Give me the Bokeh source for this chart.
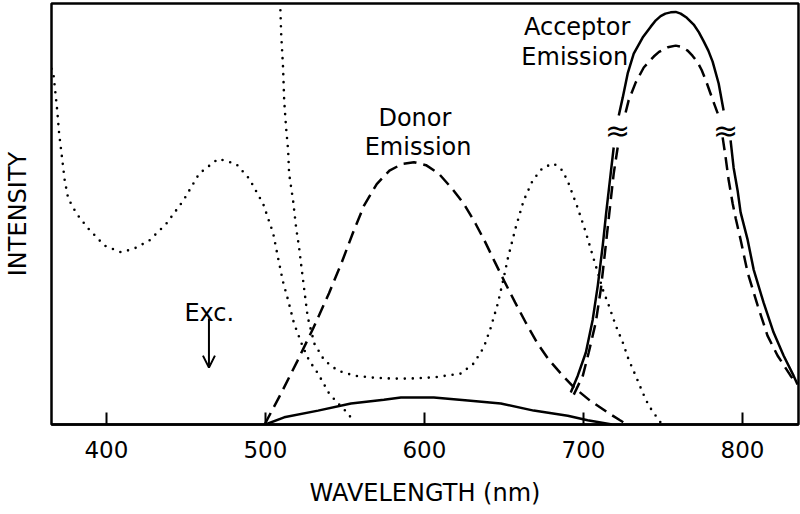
from bokeh.plotting import figure
from bokeh.models import Range1d, FixedTicker, Arrow, OpenHead, Label
from bokeh.embed import file_html
from bokeh.resources import INLINE

nan = float("nan")

# ---- data (wavelength nm, relative intensity) ----
donor_abs_wl = [365.5, 366.6, 367.6, 369.1, 370.3, 371.8, 373.8, 376.0, 381.2, 388.5, 398.8, 409.4,
                417.6, 427.0, 437.7, 448.4, 458.4, 470.3, 481.6, 489.8, 498.6, 504.9, 508.0, 511.0,
                514.3, 518.0, 523.7, 527.5, 533.1, 540.0, 545.7, 552.0, 555.7]
donor_abs_y = [0.845, 0.837, 0.801, 0.746, 0.691, 0.644, 0.580, 0.537, 0.501, 0.466, 0.425, 0.409,
               0.418, 0.437, 0.477, 0.532, 0.596, 0.631, 0.619, 0.584, 0.524, 0.454, 0.395, 0.340,
               0.295, 0.240, 0.183, 0.152, 0.121, 0.074, 0.050, 0.026, 0.005]

acceptor_abs_wl = [508.8, 509.3, 509.9, 511.1, 511.8, 513.0, 514.3, 514.9, 517.4, 519.3, 521.2, 522.4,
                   524.5, 526.6, 530.8, 537.1, 545.5, 555.9, 568.5, 581.0, 590.0, 605.9, 622.9, 631.0,
                   637.3, 641.7, 646.1, 649.9, 652.4, 657.4, 662.4, 668.1, 674.4, 681.3, 686.9, 690.7,
                   696.3, 701.5, 705.8, 709.5, 712.1, 715.9, 720.3, 724.7, 728.4, 732.8, 737.2, 741.0,
                   745.4, 748.5]
acceptor_abs_y = [1.06, 1.0, 0.929, 0.848, 0.770, 0.705, 0.651, 0.596, 0.532, 0.468, 0.420, 0.382,
                  0.318, 0.255, 0.192, 0.152, 0.128, 0.116, 0.111, 0.109, 0.109, 0.112, 0.121, 0.145,
                  0.183, 0.230, 0.287, 0.349, 0.394, 0.468, 0.532, 0.580, 0.610, 0.620, 0.603, 0.572,
                  0.515, 0.456, 0.401, 0.355, 0.321, 0.283, 0.235, 0.195, 0.154, 0.116, 0.076, 0.045,
                  0.021, 0.005]

donor_em_wl = [499.5, 510.0, 520.0, 530.0, 540.0, 548.0, 555.0, 562.0, 570.0, 578.0, 586.0, 593.4,
               601.0, 609.0, 617.0, 625.0, 632.0, 638.0, 644.0, 650.0, 657.0, 664.0, 671.0, 678.0,
               686.0, 694.0, 704.0, 715.0, 723.0, 726.5]
donor_em_y = [0.0, 0.075, 0.150, 0.228, 0.312, 0.385, 0.455, 0.520, 0.571, 0.603, 0.619, 0.623,
              0.616, 0.596, 0.562, 0.523, 0.478, 0.435, 0.388, 0.342, 0.290, 0.240, 0.193, 0.155,
              0.120, 0.088, 0.057, 0.029, 0.010, 0.002]

direct_em_wl = [500.0, 511.8, 533.1, 553.8, 574.5, 585.2, 605.9, 627.3, 648.0, 668.7, 690.1, 702.6, 718.0]
direct_em_y = [0.0, 0.017, 0.033, 0.050, 0.059, 0.064, 0.064, 0.057, 0.050, 0.033, 0.021, 0.010, 0.0]

acc_em_solid_wl = [692.0, 696.4, 701.5, 705.8, 709.0, 712.1, 714.3, 717.1, 719.0, nan,
                   722.2, 724.7, 727.8, 731.6, 737.2, 742.3, 745.5, 748.5, 751.5, 754.8, 758.0,
                   761.1, 765.0, 769.3, 772.5, 775.6, 778.5, 781.2, 785.0, 788.1, nan,
                   792.5, 794.4, 796.9, 798.8, 803.2, 807.0, 813.2, 819.5, 825.8, 832.1, 834.6]
acc_em_solid_y = [0.076, 0.116, 0.171, 0.249, 0.330, 0.425, 0.504, 0.596, 0.658, nan,
                  0.734, 0.777, 0.834, 0.881, 0.919, 0.945, 0.960, 0.970, 0.976, 0.979, 0.980,
                  0.976, 0.966, 0.950, 0.932, 0.910, 0.888, 0.862, 0.810, 0.746, nan,
                  0.675, 0.610, 0.556, 0.504, 0.439, 0.368, 0.290, 0.219, 0.164, 0.116, 0.095]

acc_em_dash_wl = [693.9, 699.6, 703.3, 707.7, 710.9, 714.0, 716.3, 719.0, 721.5, nan,
                  726.5, 728.4, 732.8, 737.9, 744.2, 747.5, 753.0, 758.0, 761.5, 765.5, 768.5,
                  771.8, 774.3, 776.8, 781.2, 784.4, nan,
                  787.5, 789.4, 791.3, 793.8, 795.7, 798.8, 803.2, 809.5, 815.7, 822.0, 830.2, 833.3]
acc_em_dash_y = [0.071, 0.116, 0.171, 0.242, 0.321, 0.425, 0.504, 0.596, 0.658, nan,
                 0.741, 0.770, 0.812, 0.848, 0.874, 0.885, 0.896, 0.900, 0.897, 0.888, 0.876,
                 0.860, 0.842, 0.819, 0.772, 0.739, nan,
                 0.682, 0.634, 0.580, 0.525, 0.490, 0.439, 0.361, 0.283, 0.211, 0.164, 0.116, 0.100]

x_ticks = [400, 500, 600, 700, 800]
exc_wl = 464.5
exc_arrow_y = [0.252, 0.135]
break_wl = [721.5, 789.4]
break_y = 0.698

FONT = "DejaVu Sans"

p = figure(width=800, height=514, x_range=Range1d(365.5, 835.2), y_range=Range1d(0, 1.0),
           output_backend="svg", toolbar_location=None,
           min_border_left=50, min_border_right=2, min_border_top=3, min_border_bottom=90)
p.background_fill_color = "white"
p.border_fill_color = "white"
p.outline_line_color = "black"
p.outline_line_width = 2.5
p.outline_line_alpha = 1.0
p.xgrid.visible = False
p.ygrid.visible = False

ay = p.yaxis[0]
ay.ticker = FixedTicker(ticks=[])
ay.axis_line_color = None
ay.major_tick_in = 0
ay.major_tick_out = 0
ay.minor_tick_line_color = None
ay.major_label_text_font_size = "0px"
ay.axis_label = "INTENSITY"
ay.axis_label_text_font = FONT
ay.axis_label_text_font_size = "24px"
ay.axis_label_text_font_style = "normal"
ay.axis_label_text_color = "black"
ay.axis_label_standoff = 20

ax = p.xaxis[0]
ax.ticker = FixedTicker(ticks=x_ticks)
ax.axis_line_width = 2.5
ax.axis_line_color = "black"
ax.major_tick_in = 12
ax.major_tick_out = 0
ax.major_tick_line_width = 2
ax.major_tick_line_color = "black"
ax.minor_tick_line_color = None
ax.major_label_text_font = FONT
ax.major_label_text_font_size = "23px"
ax.major_label_text_color = "black"
ax.major_label_standoff = 16
ax.axis_label = "WAVELENGTH (nm)"
ax.axis_label_text_font = FONT
ax.axis_label_text_font_size = "24px"
ax.axis_label_text_font_style = "normal"
ax.axis_label_text_color = "black"
ax.axis_label_standoff = 18

DOT = dict(line_color="black", line_width=2.6, line_dash="0 8", line_cap="round")
DASH = dict(line_color="black", line_width=2.5, line_dash="13 7")
SOLID = dict(line_color="black", line_width=2.5)

p.line(donor_abs_wl, donor_abs_y, **DOT)
p.line(acceptor_abs_wl, acceptor_abs_y, **DOT)
p.line(donor_em_wl, donor_em_y, **DASH)
p.line(direct_em_wl, direct_em_y, **SOLID)
p.line(acc_em_solid_wl, acc_em_solid_y, **SOLID)
p.line(acc_em_dash_wl, acc_em_dash_y, **DASH)

for bx in break_wl:
    p.add_layout(Label(x=bx, y=break_y, text="≈", text_font=FONT, text_font_size="30px",
                       text_align="center", text_baseline="middle", text_color="black"))

p.add_layout(Arrow(x_start=exc_wl, y_start=exc_arrow_y[0], x_end=exc_wl, y_end=exc_arrow_y[1],
                   line_width=2, line_color="black",
                   end=OpenHead(size=12, line_width=2, line_color="black")))

def add_text(x, y, t):
    p.add_layout(Label(x=x, y=y, text=t, text_font=FONT, text_font_size="24px",
                       text_align="center", text_baseline="alphabetic", text_color="black"))

add_text(464.7, 0.266, "Exc.")
add_text(594.0, 0.729, "Donor")
add_text(596.0, 0.658, "Emission")
add_text(696.0, 0.943, "Acceptor")
add_text(694.5, 0.872, "Emission")

open("out.html", "w").write(file_html(p, INLINE))
